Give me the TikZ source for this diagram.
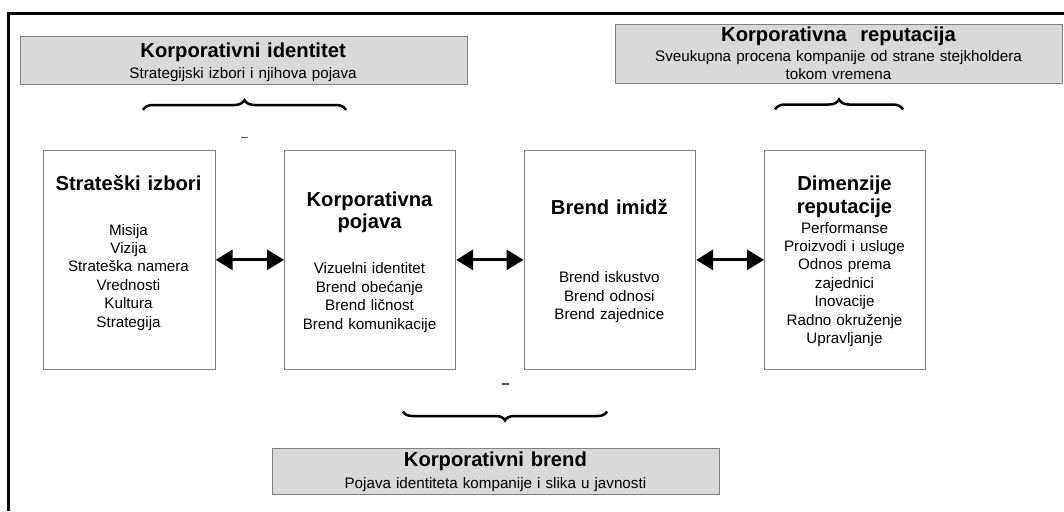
\documentclass[tikz,border=0pt]{standalone}
\usepackage{fontspec}
\setmainfont{Liberation Sans}
\usetikzlibrary{arrows.meta,decorations.pathreplacing}
\definecolor{panelfill}{HTML}{D9D9D9}
\definecolor{edgegray}{HTML}{808080}
\definecolor{tickgray}{HTML}{555555}
\begin{document}
\begin{tikzpicture}[x=1pt,y=-1pt,
  panel/.style={draw=edgegray, fill=panelfill, line width=1.2pt, inner sep=0pt, anchor=north west},
  stagebox/.style={draw=edgegray, fill=white, line width=1.2pt, inner sep=0pt, anchor=north west,
    minimum height=219.5pt},
  headtxt/.style={font=\fontsize{20.2}{22.5}\selectfont\bfseries, anchor=base, inner sep=0pt,
    align=center, text width=300pt},
  bodytxt/.style={font=\fontsize{15.2}{18.4}\selectfont, anchor=base, inner sep=0pt,
    align=center, text width=300pt},
  subtxt/.style={font=\fontsize{15.2}{17.5}\selectfont, anchor=base, inner sep=0pt,
    align=center, text width=440pt},
  biarrow/.style={line width=3pt, {Triangle[length=17pt,width=20pt]}-{Triangle[length=17pt,width=20pt]}},
  bracestyle/.style={line width=2.5pt, decorate, decoration={brace, amplitude=#1}},
  tick/.style={draw=tickgray, line width=1.3pt}
]
\useasboundingbox (0,0) rectangle (1064,511);

% outer frame (top and left edges)
\coordinate (fbl) at (8.3,511);
\coordinate (ftl) at (8.3,13.6);
\coordinate (ftr) at (1064,13.6);
\draw[line width=3.3pt, line join=miter] (fbl) -- (ftl) -- (ftr);

% grey summary panels
\node[panel, minimum width=447pt, minimum height=47.5pt] (pA) at (19.6,36.2) {};
\node[headtxt] (pAt) at (243.1,57.5) {Korporativni identitet};
\node[subtxt] (pAs) at (243.1,78.5) {Strategijski izbori i njihova pojava};

\node[panel, minimum width=447pt, minimum height=58.5pt] (pB) at (615,24) {};
\node[headtxt] (pBt) at (838.5,41.5) {Korporativna~ reputacija};
\node[subtxt] (pBs) at (838.5,61.5) {Sveukupna procena kompanije od strane stejkholdera\\tokom vremena};

\node[panel, minimum width=447.3pt, minimum height=45.8pt] (pC) at (271.7,447.7) {};
\node[headtxt] (pCt) at (495.4,466.7) {Korporativni brend};
\node[subtxt] (pCs) at (495.4,488.5) {Pojava identiteta kompanije i slika u javnosti};

% braces
\coordinate (brAa) at (143,110);
\coordinate (brAb) at (346,110);
\draw[bracestyle=10pt] (brAa) -- (brAb);
\coordinate (brBa) at (775,109.5);
\coordinate (brBb) at (903,109.5);
\draw[bracestyle=10pt] (brBa) -- (brBb);
\coordinate (brCa) at (607,411.5);
\coordinate (brCb) at (403,411.5);
\draw[bracestyle=9pt] (brCa) -- (brCb);

% short marks
\coordinate (tkAa) at (241,137.7);
\coordinate (tkAb) at (248,137.7);
\draw[tick] (tkAa) -- (tkAb);
\coordinate (tkCa) at (502,384);
\coordinate (tkCb) at (509,384);
\draw[tick] (tkCa) -- (tkCb);

% stage boxes
\node[stagebox, minimum width=172pt] (s1) at (42.5,149.5) {};
\node[stagebox, minimum width=171pt] (s2) at (284,149.5) {};
\node[stagebox, minimum width=171.5pt] (s3) at (523.5,149.5) {};
\node[stagebox, minimum width=161pt] (s4) at (764,149.5) {};

\node[headtxt] (s1t) at (128.5,190.8) {Strateški izbori};
\node[bodytxt] (s1b) at (128.5,235) {Misija\\Vizija\\Strateška namera\\Vrednosti\\Kultura\\Strategija};

\node[headtxt] (s2t) at (369.5,206.3) {Korporativna\\pojava};
\node[bodytxt] (s2b) at (369.5,273.8) {Vizuelni identitet\\Brend obećanje\\Brend ličnost\\Brend komunikacije};

\node[headtxt] (s3t) at (609.3,214) {Brend imidž};
\node[bodytxt] (s3b) at (609.3,282.8) {Brend iskustvo\\Brend odnosi\\Brend zajednice};

\node[headtxt] (s4t) at (844.5,190.6) {Dimenzije\\reputacije};
\node[bodytxt] (s4b) at (844.5,233) {Performanse\\Proizvodi i usluge\\Odnos prema\\zajednici\\Inovacije\\Radno okruženje\\Upravljanje};

% two-way connectors
\draw[biarrow] (s1.east) -- (s2.west);
\draw[biarrow] (s2.east) -- (s3.west);
\draw[biarrow] (s3.east) -- (s4.west);
\end{tikzpicture}
\end{document}
